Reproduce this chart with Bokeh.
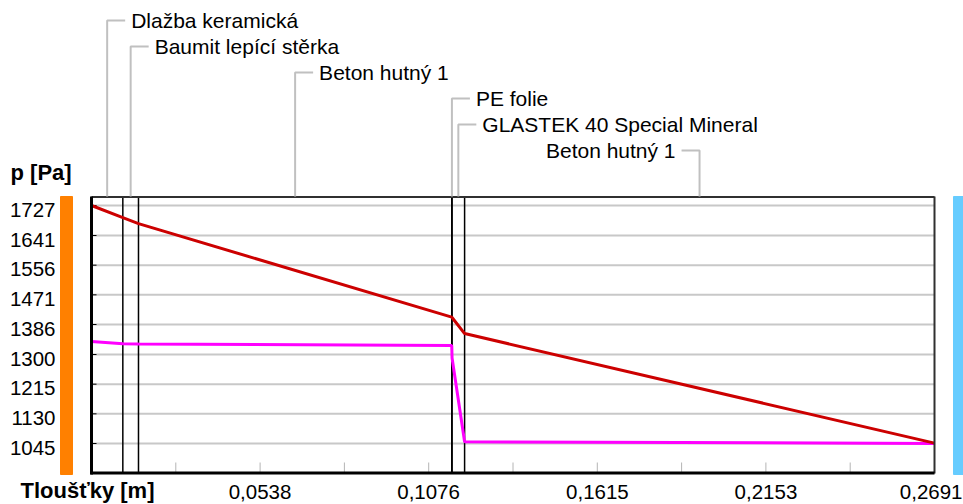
import numpy as np
from bokeh.plotting import figure
from bokeh.models import Range1d
from bokeh.core.properties import value
from bokeh.embed import file_html
from bokeh.resources import INLINE

# ---------------- data ----------------
layer_names = ["Dlažba keramická", "Baumit lepící stěrka", "Beton hutný 1",
               "PE folie", "GLASTEK 40 Special Mineral", "Beton hutný 1"]
layer_thickness = [0.010, 0.005, 0.100, 0.0001, 0.004, 0.150]   # m

# saturated water-vapour pressure (red)
x_sat = [0.0, 0.010, 0.015, 0.115, 0.1151, 0.1191, 0.2691]
p_sat = [1727, 1692, 1675, 1407, 1406, 1360, 1046]
# partial water-vapour pressure (magenta)
x_vap = [0.0, 0.010, 0.015, 0.115, 0.1151, 0.1191, 0.2691]
p_vap = [1337, 1331, 1330, 1326, 1290, 1050, 1045]

y_ticks = [1727, 1641, 1556, 1471, 1386, 1300, 1215, 1130, 1045]
y_tick_labels = ["1727", "1641", "1556", "1471", "1386", "1300", "1215", "1130", "1045"]
x_ticks = [0.0538, 0.1076, 0.1615, 0.2153, 0.2691]
x_tick_labels = ["0,0538", "0,1076", "0,1615", "0,2153", "0,2691"]
x_title = "Tloušťky [m]"
y_title = "p [Pa]"

# ---------------- layout (pixels) ----------------
W, H = 963, 504
FX0, FX1 = 91, 934          # px of x = 0 and x = total
FY_TOP, FY_BOT = 196, 473   # frame top / bottom
GY_HI, GY_LO = 205, 443     # px of highest / lowest y tick

total = float(np.sum(layer_thickness))
sx = (FX1 - FX0) / total
y_hi, y_lo = max(y_ticks), min(y_ticks)
sy = (GY_LO - GY_HI) / (y_hi - y_lo)


def X(px):
    return (px - FX0) / sx


def Y(py):
    return y_lo + (GY_LO - py) / sy


def PX(x):
    return FX0 + x * sx


FONT = value("Liberation Sans")

p = figure(width=W, height=H, x_range=Range1d(X(0), X(W)), y_range=Range1d(Y(H), Y(0)),
           min_border=0, min_border_left=0, min_border_right=0, min_border_top=0,
           min_border_bottom=0, toolbar_location=None, output_backend="svg",
           x_axis_location=None, y_axis_location=None)
p.grid.visible = False
p.outline_line_color = None
p.background_fill_color = "white"
p.border_fill_color = "white"

# coloured side bars
p.quad(left=[X(60)], right=[X(72)], top=[Y(FY_TOP)], bottom=[Y(FY_BOT + 1)], color="#ff8000")
p.quad(left=[X(953)], right=[X(965)], top=[Y(FY_TOP)], bottom=[Y(FY_BOT + 1)], color="#66ccff")

# horizontal grid lines
n = len(y_ticks)
p.segment(x0=[0] * n, x1=[total] * n, y0=y_ticks, y1=y_ticks, line_color="#c8c8c8", line_width=2)
# small ticks on the left border
p.segment(x0=[0] * n, x1=[X(FX0 + 5)] * n, y0=y_ticks, y1=y_ticks, line_color="#000000", line_width=1)

# minor ticks on the bottom axis
mt = [total * k / 10 for k in range(1, 10)]
p.segment(x0=mt, x1=mt, y0=[Y(FY_BOT - 1)] * 9, y1=[Y(FY_BOT - 11)] * 9, line_color="#b4b4b4", line_width=1)

# layer boundaries
bounds = list(np.cumsum(layer_thickness)[:-1])
nb = len(bounds)
p.segment(x0=bounds, x1=bounds, y0=[Y(FY_BOT)] * nb, y1=[Y(FY_TOP)] * nb, line_color="#000000", line_width=1.5)

# pressure curves
p.line(x_vap, p_vap, line_color="#ff00ff", line_width=3)
p.line(x_sat, p_sat, line_color="#cc0000", line_width=3)

# frame
p.segment(x0=[0], x1=[total], y0=[Y(FY_TOP + 0.5)], y1=[Y(FY_TOP + 0.5)], line_color="#303030", line_width=2)
p.segment(x0=[total], x1=[total], y0=[Y(FY_TOP)], y1=[Y(FY_BOT)], line_color="#303030", line_width=2)
p.segment(x0=[0], x1=[0], y0=[Y(FY_TOP)], y1=[Y(FY_BOT + 1)], line_color="#000000", line_width=3)
p.segment(x0=[X(FX0 - 1)], x1=[total], y0=[Y(FY_BOT - 0.5)], y1=[Y(FY_BOT - 0.5)], line_color="#000000", line_width=3)

# layer labels with leader lines
mids = list(np.cumsum(layer_thickness) - np.array(layer_thickness) / 2)
rows = [20, 46, 72, 98, 124, 150]
dirs = [1, 1, 1, 1, 1, -1]
lx, ly = [], []
for m, r, d, name in zip(mids, rows, dirs, layer_names):
    mpx = PX(m)
    lx.append([m, m, X(mpx + d * 18)])
    ly.append([Y(FY_TOP), Y(r), Y(r)])
    p.text(x=[X(mpx + d * 24)], y=[Y(r)], text=[name], text_align="left" if d > 0 else "right",
           text_baseline="middle", text_font=FONT, text_font_size="21px", text_color="#000000")
p.multi_line(xs=lx, ys=ly, line_color="#c0c0c0", line_width=2)

# tick labels (the last one is kept inside the window)
p.text(x=x_ticks[:-1], y=[Y(491)] * (len(x_ticks) - 1), text=x_tick_labels[:-1], text_align="center",
       text_baseline="middle", text_font=FONT, text_font_size="20.5px", text_color="#000000")
p.text(x=[X(W - 1)], y=[Y(491)], text=x_tick_labels[-1:], text_align="right",
       text_baseline="middle", text_font=FONT, text_font_size="20.5px", text_color="#000000")
p.text(x=[X(55)] * n, y=y_ticks, y_offset=4, text=y_tick_labels, text_align="right",
       text_baseline="middle", text_font=FONT, text_font_size="20.5px", text_color="#000000")

# axis titles
p.text(x=[X(10)], y=[Y(172)], text=[y_title], text_align="left", text_baseline="middle",
       text_font=FONT, text_font_size="22px", text_font_style="bold", text_color="#000000")
p.text(x=[X(20)], y=[Y(490)], text=[x_title], text_align="left", text_baseline="middle",
       text_font=FONT, text_font_size="22px", text_font_style="bold", text_color="#000000")

open("out.html", "w").write(file_html(p, INLINE))
